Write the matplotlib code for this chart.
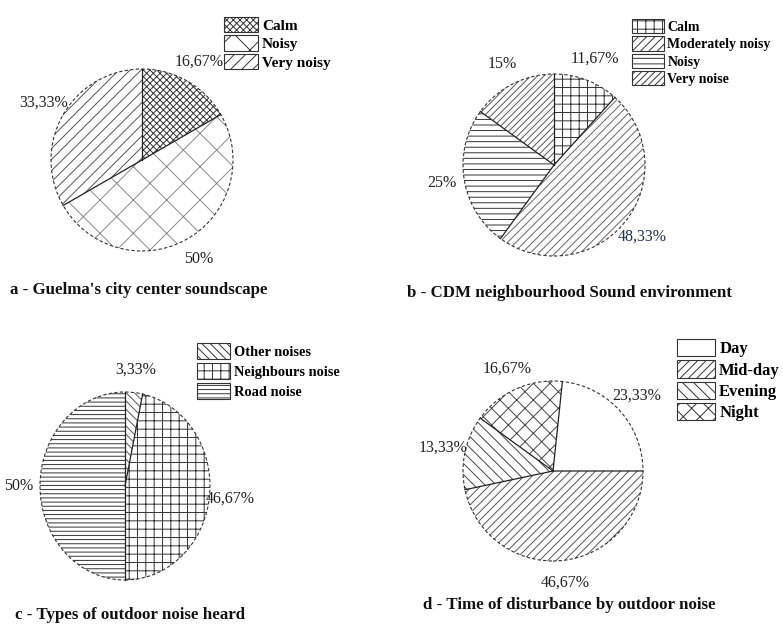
import matplotlib
matplotlib.use("Agg")
import matplotlib.pyplot as plt
from matplotlib.patches import Ellipse
import numpy as np

plt.rcParams["font.family"] = ["Liberation Serif", "DejaVu Serif"]
plt.rcParams["hatch.linewidth"] = 0.7

W, H = 783, 635

# a - city centre soundscape
soundscape_labels = ["Calm", "Noisy", "Very noisy"]
soundscape_values = [16.67, 50, 33.33]

# b - CDM neighbourhood
cdm_labels = ["Calm", "Moderately noisy", "Noisy", "Very noise"]
cdm_values = [11.67, 48.33, 25, 15]

# c - types of outdoor noise
noise_type_labels = ["Other noises", "Neighbours noise", "Road noise"]
noise_type_values = [3.33, 46.67, 50]

# d - time of disturbance
time_labels = ["Day", "Mid-day", "Evening", "Night"]
time_values = [23.33, 46.67, 13.33, 16.67]


def pct(v):
    s = f"{v:.2f}".rstrip("0").rstrip(".")
    return s.replace(".", ",") + "%"


panels = [
    dict(values=soundscape_values, labels=soundscape_labels,
         title="a - Guelma's city center soundscape",
         center=(142, 160), rx=91, ry=91, start=90,
         hatches=["xxxxx", "x", "///"],
         hcolors=["#333333", "#8a8a8a", "#555555"],
         legend_xy=(224, 17), hl=34, hh=17.5, lfs=11, lsp=0.18,
         title_xy=(10, 290), label_colors=None),
    dict(values=cdm_values, labels=cdm_labels,
         title="b - CDM neighbourhood Sound environment",
         center=(554, 165), rx=91, ry=91, start=90,
         hatches=["++", "////", "---", "/////"],
         hcolors=["#333333", "#666666", "#333333", "#555555"],
         legend_xy=(632, 19), hl=32, hh=16.8, lfs=10, lsp=0.18,
         title_xy=(407, 293),
         label_colors=["#222222", "#1f2f4f", "#222222", "#222222"]),
    dict(values=noise_type_values, labels=noise_type_labels,
         title="c - Types of outdoor noise heard",
         center=(125, 486), rx=85, ry=94, start=90,
         hatches=["\\\\\\\\", "++", "----"],
         hcolors=["#555555", "#333333", "#333333"],
         legend_xy=(197, 343), hl=33, hh=19.5, lfs=10.4, lsp=0.25,
         title_xy=(15, 615), label_colors=None),
    dict(values=time_values, labels=time_labels,
         title="d - Time of disturbance by outdoor noise",
         center=(553, 471), rx=90, ry=90, start=84,
         hatches=["", "////", "\\\\\\", "xx"],
         hcolors=["#555555", "#555555", "#444444", "#444444"],
         legend_xy=(677, 339), hl=38, hh=20.5, lfs=12, lsp=0.18,
         title_xy=(423, 605), label_colors=None),
]

fig = plt.figure(figsize=(W / 100, H / 100), dpi=100)
fig.patch.set_facecolor("white")

for p in panels:
    cx, cy = p["center"]
    rx, ry = p["rx"], p["ry"]
    ax = fig.add_axes([(cx - rx) / W, 1 - (cy + ry) / H, 2 * rx / W, 2 * ry / H])
    wedges, texts = ax.pie(
        p["values"], labels=[pct(v) for v in p["values"]],
        startangle=p["start"], counterclock=False, radius=1,
        labeldistance=1.25,
        wedgeprops=dict(linewidth=0),
        textprops=dict(fontsize=11.5, color="#222222"),
    )
    for w, h, c in zip(wedges, p["hatches"], p["hcolors"]):
        w.set_facecolor("white")
        w.set_edgecolor(c)
        w.set_hatch(h)
    for i, t in enumerate(texts):
        t.set_ha("center")
        t.set_va("center")
        t.set_clip_on(False)
        if p["label_colors"]:
            t.set_color(p["label_colors"][i])
    ax.set_xlim(-1, 1)
    ax.set_ylim(-1, 1)
    ax.set_aspect("auto")
    ax.axis("off")

    # dashed rim and solid radial separators
    ax.add_patch(Ellipse((0, 0), 2, 2, fill=False, edgecolor="#333333",
                         linewidth=0.8, linestyle=(0, (3, 2)), clip_on=False))
    for w in wedges:
        th = np.deg2rad(w.theta1)
        ax.plot([0, np.cos(th)], [0, np.sin(th)], color="#222222",
                linewidth=0.9, clip_on=False)

    fs_px = p["lfs"] * 100 / 72
    lx, ly = p["legend_xy"]
    leg = ax.legend(
        wedges, p["labels"], loc="upper left",
        bbox_to_anchor=(lx / W, 1 - ly / H), bbox_transform=fig.transFigure,
        frameon=False, borderpad=0, borderaxespad=0,
        prop=dict(weight="bold", size=p["lfs"]),
        handlelength=p["hl"] / fs_px, handleheight=p["hh"] / fs_px,
        labelspacing=p["lsp"], handletextpad=0.25,
    )
    for hnd in leg.legend_handles:
        hnd.set_linewidth(0.8)
        hnd.set_edgecolor("#333333")

    tx, ty = p["title_xy"]
    fig.text(tx / W, 1 - ty / H, p["title"], fontsize=12.2, fontweight="bold",
             ha="left", va="center", color="#111111")

fig.savefig("out.png", dpi=100, facecolor="white")
